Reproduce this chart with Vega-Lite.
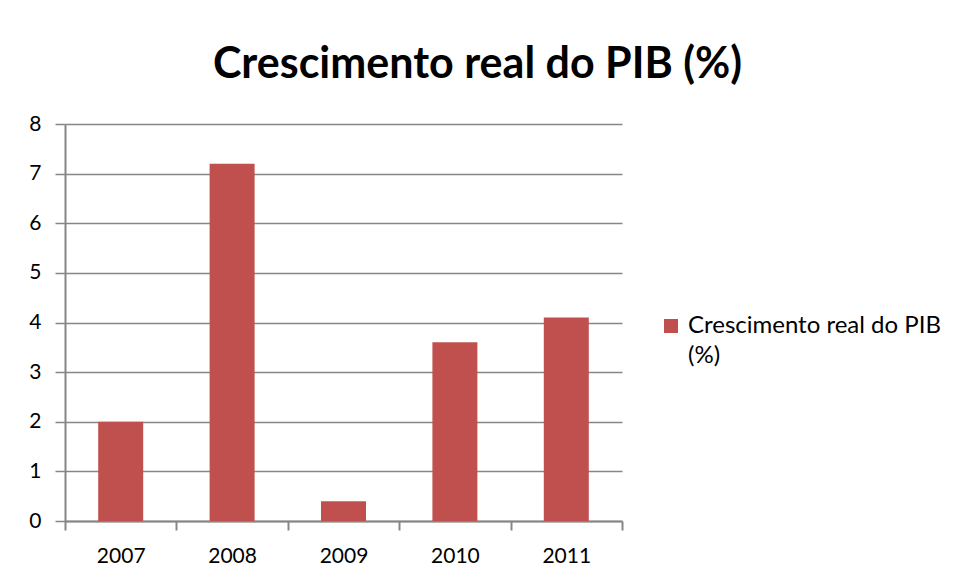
{
  "$schema": "https://vega.github.io/schema/vega-lite/v6.json",
  "autosize": "none",
  "width": 557,
  "height": 397,
  "padding": {"left": 65, "top": 124, "right": 334, "bottom": 62},
  "background": "white",
  "title": {
    "text": "Crescimento real do PIB (%)",
    "font": "Lato",
    "fontSize": 43,
    "fontWeight": "bold",
    "color": "#000000",
    "anchor": "middle",
    "frame": "group",
    "dx": 134,
    "offset": 26
  },
  "data": {
    "values": [
      {"ano": "2007", "valor": 2.0, "serie": "Crescimento real do PIB (%)"},
      {"ano": "2008", "valor": 7.2, "serie": "Crescimento real do PIB (%)"},
      {"ano": "2009", "valor": 0.4, "serie": "Crescimento real do PIB (%)"},
      {"ano": "2010", "valor": 3.6, "serie": "Crescimento real do PIB (%)"},
      {"ano": "2011", "valor": 4.1, "serie": "Crescimento real do PIB (%)"}
    ]
  },
  "mark": {"type": "bar", "size": 45},
  "encoding": {
    "x": {
      "field": "ano",
      "type": "ordinal",
      "scale": {"paddingInner": 0, "paddingOuter": 0},
      "axis": {
        "title": null,
        "labelAngle": 0,
        "labelFont": "Lato",
        "labelFontSize": 21,
        "labelColor": "#000000",
        "labelPadding": 15,
        "tickBand": "extent",
        "tickSize": 9,
        "tickColor": "#868686",
        "tickWidth": 2,
        "domainColor": "#868686",
        "domainWidth": 2,
        "grid": false
      }
    },
    "y": {
      "field": "valor",
      "type": "quantitative",
      "scale": {"domain": [0, 8], "nice": false},
      "axis": {
        "title": null,
        "values": [0, 1, 2, 3, 4, 5, 6, 7, 8],
        "labelFont": "Lato",
        "labelFontSize": 21,
        "labelColor": "#000000",
        "labelPadding": 14,
        "tickSize": 10,
        "tickColor": "#868686",
        "tickWidth": 1.5,
        "domainColor": "#868686",
        "domainWidth": 2,
        "grid": true,
        "gridColor": "#868686",
        "gridWidth": 1.5,
        "gridOpacity": 1
      }
    },
    "color": {
      "field": "serie",
      "type": "nominal",
      "scale": {"range": ["#C0504D"]},
      "legend": {
        "title": null,
        "orient": "none",
        "legendX": 594,
        "legendY": 190,
        "symbolType": "square",
        "symbolSize": 196,
        "symbolStrokeWidth": 0,
        "labelFont": "Lato",
        "labelFontSize": 24,
        "labelColor": "#000000",
        "labelOffset": 5,
        "labelLimit": 400,
        "labelExpr": "['Crescimento real do PIB', '(%)']"
      }
    }
  },
  "config": {
    "view": {"stroke": null},
    "style": {"guide-label": {"lineHeight": 30}}
  }
}
